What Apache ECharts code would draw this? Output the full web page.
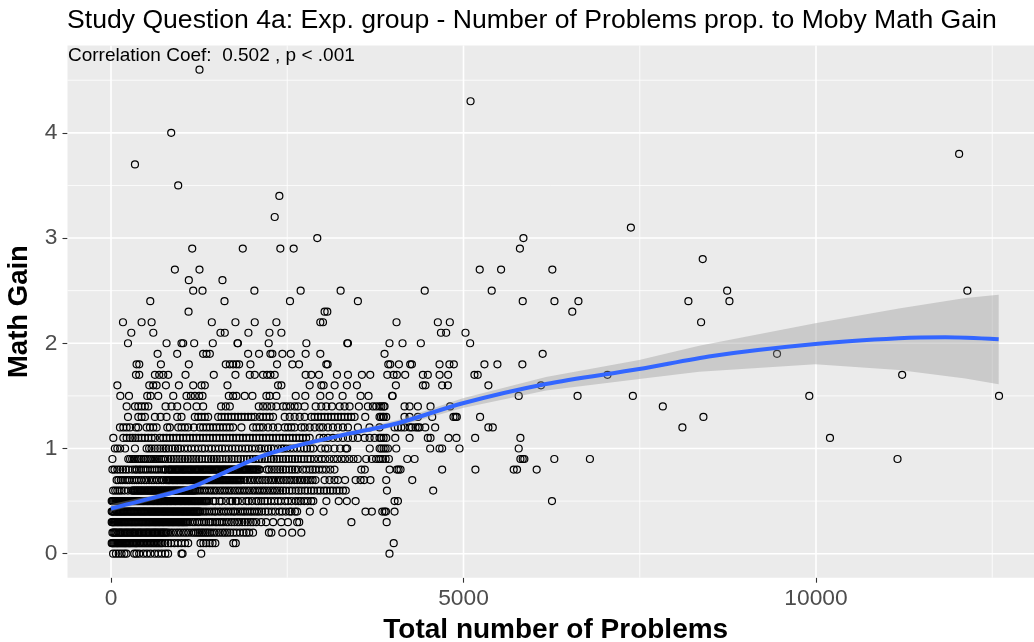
<!DOCTYPE html>
<html><head><meta charset="utf-8">
<style>html,body{margin:0;padding:0;background:#fff}#c{width:1034px;height:642px}</style>
<script src="https://cdn.jsdelivr.net/npm/echarts@6/dist/echarts.min.js"></script>
</head><body><div id="c"></div>
<script>
const titleText = 'Study Question 4a: Exp. group - Number of Problems prop. to Moby Math Gain';
const subtitleText = 'Correlation Coef:  0.502 , p < .001';
const xName = 'Total number of Problems';
const yName = 'Math Gain';
const xTicks = [0,5000,10000];
const yTicks = [0,1,2,3,4];
const xMinor = [2500,7500,12500];
const yMinor = [0.5,1.5,2.5,3.5,4.5];

const r00=[30,70,110,150,190,220,330,360,400,460,510,560,620,670,720,770,810,1000,1015,1280,3950];
const r01=[20,45,75,100,130,160,190,215,250,275,310,345,370,410,450,490,530,570,610,650,690,730,770,810,850,900,950,1000,1050,1095,1270,1310,1350,1400,1440,1480,1735,1770,4010,10,32,60,88,115,145,175,203,232,262,292,328,358,392,430,470,510,550,590,630,670,710];
const r02=[20,50,80,120,150,190,225,260,300,330,370,405,440,480,515,550,590,625,660,700,735,770,810,845,880,920,955,990,1030,1065,1100,1140,1175,1205,1235,1260,1290,1315,1345,1370,1400,1430,1465,1500,1540,1580,1615,1650,1690,1735,1780,1830,1880,1920,1960,2015,2240,2275,2430,2570,2700,35,65,100,135,170,208,243,280,315,350,388,422,460,498,532,570,608,642,680,718,752,790];
const r03=[10,30,55,85,110,140,165,195,220,250,280,305,335,360,390,420,445,475,500,530,555,585,615,640,670,695,725,750,780,810,835,865,890,920,950,975,1005,1030,1060,1090,1120,1160,1190,1225,1250,1290,1320,1350,1385,1410,1440,1480,1505,1540,1570,1600,1640,1670,1710,1750,1790,1820,1860,1900,1940,1980,2015,2060,2130,2200,2300,2415,2510,2640,2670,3410,3910,20,42,70,98,125,152,180,208,235,265,292,320,348,375,405,432,460,488,515,542,570,600,628,655,682,710,738,765,795,822,850,878,905,935,962,990,1018,1045,1075];
const r04=[10,35,70,95,125,150,180,205,235,265,290,320,345,375,405,430,460,485,515,545,570,600,625,655,680,710,740,765,795,820,850,880,905,935,960,990,1020,1045,1075,1100,1130,1160,1185,1215,1240,1270,1300,1330,1360,1395,1430,1465,1490,1530,1560,1600,1630,1665,1700,1735,1760,1800,1835,1870,1900,1935,1970,2000,2035,2070,2100,2140,2190,2230,2280,2330,2390,2430,2480,2530,2560,2610,2640,2820,3015,3610,3700,3848,3881,3900,4022,22,52,82,110,138,165,192,220,250,278,305,332,360,390,418,445,472,500,530,558,585,612,640,668,695,725,752,780,808,835,865,892,920,948,975,1005,1032,1060,1088,1115,1145,1172,1200,1228,1255];
const r05=[10,30,60,85,115,140,170,195,225,255,280,310,335,365,390,420,450,475,505,530,560,590,615,645,670,700,725,755,785,810,840,865,895,920,950,980,1005,1035,1060,1090,1115,1145,1175,1200,1230,1255,1285,1315,1340,1365,1390,1450,1480,1540,1570,1630,1690,1720,1770,1800,1860,1920,1950,2000,2060,2090,2130,2180,2220,2270,2320,2370,2410,2470,2510,2560,2620,2660,2690,2740,2790,2840,2870,3055,3230,3345,3470,4022,4070,6255,20,45,72,100,128,155,182,210,240,268,295,322,350,378,405,435,462,490,518,545,575,602,630,658,685,712,740,770,798,825,852,880,908,935,965,992,1020,1048,1075,1102,1130,1160,1188,1215,1242,1270,1300,1328,1352];
const r06=[30,60,90,120,150,190,240,290,310,335,365,390,420,445,475,505,530,560,585,615,640,670,700,725,755,780,810,835,865,895,920,950,975,1005,1030,1060,1090,1115,1145,1170,1200,1225,1255,1290,1325,1360,1395,1430,1465,1500,1540,1575,1610,1645,1680,1715,1755,1790,1825,1860,1895,1930,1965,2005,2040,2075,2110,2145,2180,2215,2255,2290,2325,2360,2400,2440,2480,2530,2570,2620,2660,2700,2750,2790,2840,2880,2930,2970,3020,3060,3110,3150,3200,3240,3290,3330,3914,4570,322,350,378,405,432,460,490,518,545,572,600,628,655,685,712,740,768,795,822,850,880,908,935,962,990,1018,1045,1075,1102,1130,1158,1185];
const r07=[80,105,140,165,200,230,260,300,330,365,395,430,470,500,540,580,610,650,680,720,745,780,810,835,870,895,925,950,980,1010,1035,1065,1090,1120,1150,1175,1205,1230,1260,1290,1315,1345,1370,1400,1430,1455,1485,1510,1540,1570,1595,1625,1650,1680,1710,1735,1765,1790,1820,1850,1890,1930,1970,2000,2040,2080,2110,2150,2190,2230,2270,2300,2340,2380,2410,2450,2490,2530,2560,2600,2640,2680,2710,2750,2790,2830,2860,2900,3030,3100,3170,3220,3320,3470,3540,3590,3680,3904,4273,795,822,852,882,910,938,965,995,1022,1050,1078,1105,1135,1162,1190,1218,1245,1275,1302,1330,1358,1385,1415,1442,1470,1498,1525,1555,1582,1610,1638,1665,1695,1722,1750,1778,1805,1835];
const r08=[20,50,90,130,170,210,250,300,340,365,400,425,460,490,520,555,585,620,650,680,715,745,775,810,840,870,905,935,965,1000,1030,1060,1095,1125,1155,1190,1220,1250,1285,1315,1345,1380,1410,1440,1475,1505,1535,1570,1600,1630,1665,1695,1725,1760,1790,1820,1855,1885,1915,1950,1980,2010,2045,2075,2110,2210,2240,2280,2320,2360,2400,2440,2480,2530,2570,2610,2650,2720,2770,2820,2860,2900,2950,3000,3050,3110,3170,3550,3600,3952,4055,4079,4107,4697,5169,5712,5759,6038,770,825,855,888,920,950,982,1015,1045,1078,1110,1140,1172,1205,1235,1268,1300,1330,1362,1395,1425,1458,1490,1520,1552,1585,1615,1648,1680,1710,1742,1775,1805,1838,1870,1900,1932,1965,1995,2028,2060,2095];
const r09=[20,245,270,300,325,350,380,405,430,465,490,520,545,570,600,625,650,680,710,740,770,810,850,890,930,970,1010,1050,1090,1130,1170,1210,1250,1290,1340,1380,1420,1460,1500,1540,1580,1630,1670,1710,1750,1800,1840,1880,1930,1970,2010,2050,2100,2140,2180,2220,2270,2310,2350,2390,2440,2480,2520,2570,2610,2650,2700,2740,2790,2830,2880,2940,2990,3040,3100,3160,3210,3270,3320,3380,3440,3500,3620,3700,3760,3800,3824,3857,3895,3942,4202,4306,5807,5840,5863,6288,6793,11156];
const r10=[55,90,130,200,340,505,540,575,620,660,700,745,780,820,870,910,950,985,1040,1090,1140,1190,1240,1290,1330,1385,1430,1480,1530,1575,1620,1670,1720,1765,1810,1860,1910,1950,2000,2050,2100,2130,2180,2230,2270,2310,2370,2420,2450,2490,2540,2590,2640,2690,2740,2780,2830,2870,2980,3040,3080,3170,3250,3330,3350,3670,3810,3834,3867,3895,3928,4046,4527,4660,4697,4943,5783];
const r11=[33,175,222,269,307,345,387,434,481,529,576,623,694,741,788,835,882,930,977,1024,1071,1118,1165,1212,1260,1307,1354,1401,1448,1495,1542,1590,1637,1684,1731,1778,1825,1872,1920,1967,2014,2061,2108,2155,2202,2250,2297,2344,2391,2438,2485,2532,2580,2627,2674,2721,2768,2818,2959,3015,3077,3148,3219,3290,3361,3431,3502,3597,3668,3738,3809,3834,3867,3904,4032,4235,4494,4532,4787,4900,5165,5807,10198];
const r12=[127,175,222,269,354,387,505,552,599,647,798,835,953,1000,1048,1095,1175,1260,1307,1355,1402,1449,1496,1543,1591,1638,1685,1732,1850,2015,2063,2110,2157,2228,2299,2370,2464,2511,2558,2605,2700,2747,2818,2889,2959,3007,3077,3148,3219,3290,3361,3502,3667,3809,4022,4070,4117,4164,4235,4268,4320,4353,4376,4457,4598,5353,5415,8105];
const r13=[241,387,434,481,623,703,788,939,1000,1189,1237,1284,1331,1378,1520,1567,1614,1661,1709,1756,1803,1850,1897,1945,1992,2039,2110,2157,2204,2251,2299,2464,2535,2605,2676,2747,2841,2888,2936,2983,3030,3077,3125,3172,3219,3266,3313,3361,3408,3455,3606,3809,3856,3904,3830,3870,4163,4235,4353,4556,4858,4886,4905,5235,8403];
const r14=[222,340,387,434,481,529,774,859,939,1081,1213,1307,1562,1628,1685,2096,2157,2214,2275,2346,2440,2487,2544,2605,2653,2747,2903,2983,3054,3134,3243,3313,3384,3516,3644,3715,3762,3809,3880,3834,3867,4164,4235,4353,4532,4810,7827];
const r15=[132,255,514,562,670,883,1071,1133,1190,1251,1298,1671,1732,1779,1897,2006,2204,2251,2346,2620,2756,2969,3101,3285,3540,3653,3988,3995,5783,6618,7402,9905,12596];
const r16=[90,543,599,647,779,963,1166,1284,1331,1652,2369,2417,2818,2983,3016,3172,3346,3488,4041,4424,4461,4697,4778,5353,6099];
const r17=[354,401,623,684,741,812,1057,1458,1765,1968,2039,2157,2214,2261,2322,2761,2841,2950,3205,3361,3559,3677,3919,4008,4055,4173,4424,4494,4660,4782,5155,5202,7042,11222];
const r18=[363,401,708,1104,1628,1685,1732,1779,1817,1978,2355,2572,2667,3054,3073,3933,3961,4084,4244,4268,4660,4800,4863,5297,5481,5835];
const r19=[661,939,1307,1355,1402,1945,2100,2261,2289,2431,2549,2761,2969,3880,6123,9447];
const r20=[241,788,1000,1024,1180,1444,1794,1800,2237,2771,3351,3361,3950,4135,4395,5094];
const r21=[288,600,1553,1614,1949,2247,2417,4680,4754,5028];
const r22=[170,434,576,1430,1765,2039,2346,2969,3007,4050,4636,4806,8370];
const r23=[1100,3030,3068,6543];
const r24=[557,1610,2539,3502,5840,6290,6630,8190,8772];
const r25=[1166,1298,2034,2690,3257,4450,5400,8740,12147];
const r26=[1104,1581];
const r27=[906,1255,5230,5533,6260];
const r28=[8393];
const r29=[1152,1869,2402,2591,5800];
const r30=[2926,5850];
const r31=[7374];
const r32=[2322];
const r34=[2388];
const r35=[953];
const r37=[340];
const r38=[12030];
const r40=[854];
const r43=[5100];
const r46=[1255];
const gainLevels=[0,0.1,0.2,0.3,0.4,0.5,0.6,0.7,0.8,0.9,1,1.1,1.2,1.3,1.4,1.5,1.6,1.7,1.8,1.9,2,2.1,2.2,2.3,2.4,2.5,2.6,2.7,2.8,2.9,3,3.1,3.2,3.4,3.5,3.7,3.8,4,4.3,4.6];
const gainRows=[r00,r01,r02,r03,r04,r05,r06,r07,r08,r09,r10,r11,r12,r13,r14,r15,r16,r17,r18,r19,r20,r21,r22,r23,r24,r25,r26,r27,r28,r29,r30,r31,r32,r34,r35,r37,r38,r40,r43,r46];

const fitX=[0,647,1166,1638,2110,2582,3290,4092,4990,6170,7492,8530,9990,11175,11836,12591];
const fitY=[0.43,0.54,0.637,0.78,0.92,1.017,1.128,1.245,1.43,1.613,1.755,1.88,1.993,2.047,2.057,2.038];
const bandX=[0,647,1166,1638,2110,2582,3290,4092,4990,6170,7492,8343,9990,11175,12119,12591];
const bandLow=[0.40,0.515,0.615,0.76,0.90,1.0,1.105,1.215,1.385,1.55,1.66,1.73,1.80,1.746,1.666,1.61];
const bandUp=[0.47,0.565,0.66,0.80,0.94,1.04,1.15,1.275,1.477,1.68,1.84,1.977,2.19,2.33,2.43,2.46];

const points=[];
gainRows.forEach((row,i)=>row.forEach(x=>points.push([x,gainLevels[i]])));

function vLine(w){return (p,api)=>{const q=api.coord([api.value(0),0]);const c=p.coordSys;
  return {type:'line',shape:{x1:q[0],y1:c.y,x2:q[0],y2:c.y+c.height},style:{stroke:'#fff',lineWidth:w}};};}
function hLine(w){return (p,api)=>{const q=api.coord([0,api.value(1)]);const c=p.coordSys;
  return {type:'line',shape:{x1:c.x,y1:q[1],x2:c.x+c.width,y2:q[1]},style:{stroke:'#fff',lineWidth:w}};};}
const gridSeries=(arr,fn,w)=>({type:'custom',silent:true,z:1,renderItem:fn(w),encode:{x:0,y:1},
  data:arr.map(v=>fn===vLine?[v,0]:[0,v])});

const chart=echarts.init(document.getElementById('c'),null,{renderer:'canvas'});
const tickFont={fontFamily:'Liberation Sans',fontSize:22.8,color:'#4D4D4D'};
const nameFont={fontFamily:'Liberation Sans',fontSize:27.5,fontWeight:'bold',color:'#000'};
chart.setOption({
  animation:false,
  backgroundColor:'#fff',
  title:[
    {text:titleText,left:67,top:7,padding:0,textStyle:{fontFamily:'Liberation Sans',fontSize:26.6,fontWeight:'normal',color:'#000'}},
    {text:subtitleText,left:68,top:46,padding:0,textStyle:{fontFamily:'Liberation Sans',fontSize:19,fontWeight:'normal',color:'#000'}}
  ],
  grid:{left:67.5,top:45.5,width:966.5,height:532.2,show:true,backgroundColor:'#EBEBEB',borderWidth:0,containLabel:false,outerBoundsMode:'none'},
  xAxis:{type:'value',min:-617,max:13092,name:xName,nameLocation:'middle',nameGap:39,
    nameTextStyle:Object.assign({fontSize:28,padding:[0,0,0,10]},{fontFamily:nameFont.fontFamily,fontWeight:nameFont.fontWeight,color:nameFont.color}),
    axisLine:{show:false,onZero:false},splitLine:{show:false},
    axisTick:{show:true,length:5,customValues:xTicks,lineStyle:{color:'#333',width:1.1}},
    axisLabel:Object.assign({customValues:xTicks,margin:10,formatter:v=>String(v)},tickFont)},
  yAxis:{type:'value',min:-0.228,max:4.83,name:yName,nameLocation:'middle',nameGap:21,nameTextStyle:nameFont,
    axisLine:{show:false,onZero:false},splitLine:{show:false},
    axisTick:{show:true,length:5,customValues:yTicks,lineStyle:{color:'#333',width:1.1}},
    axisLabel:Object.assign({customValues:yTicks,margin:10,formatter:v=>String(v)},tickFont)},
  series:[
    gridSeries(yMinor,hLine,0.8),
    gridSeries(xMinor,vLine,0.8),
    gridSeries(yTicks,hLine,1.6),
    gridSeries(xTicks,vLine,1.6),
    {type:'scatter',z:3,symbol:'circle',symbolSize:7,silent:true,large:false,progressive:0,data:points,
      itemStyle:{color:'rgba(0,0,0,0)',borderColor:'#000',borderWidth:1.2,opacity:1}},
    {type:'custom',z:4,silent:true,encode:{x:0,y:1},
      data:bandX.map((x,i)=>[x,bandLow[i]]),
      renderItem:(p,api)=>{
        if(p.dataIndex!==0) return null;
        const pts=[];
        bandX.forEach((x,i)=>pts.push(api.coord([x,bandUp[i]])));
        for(let i=bandX.length-1;i>=0;i--) pts.push(api.coord([bandX[i],bandLow[i]]));
        return {type:'polygon',shape:{points:pts},style:{fill:'rgba(153,153,153,0.4)'}};
      }},
    {type:'line',z:5,silent:true,smooth:0.3,showSymbol:false,data:fitX.map((x,i)=>[x,fitY[i]]),
      lineStyle:{color:'#3366FF',width:4}}
  ]
});
</script></body></html>
